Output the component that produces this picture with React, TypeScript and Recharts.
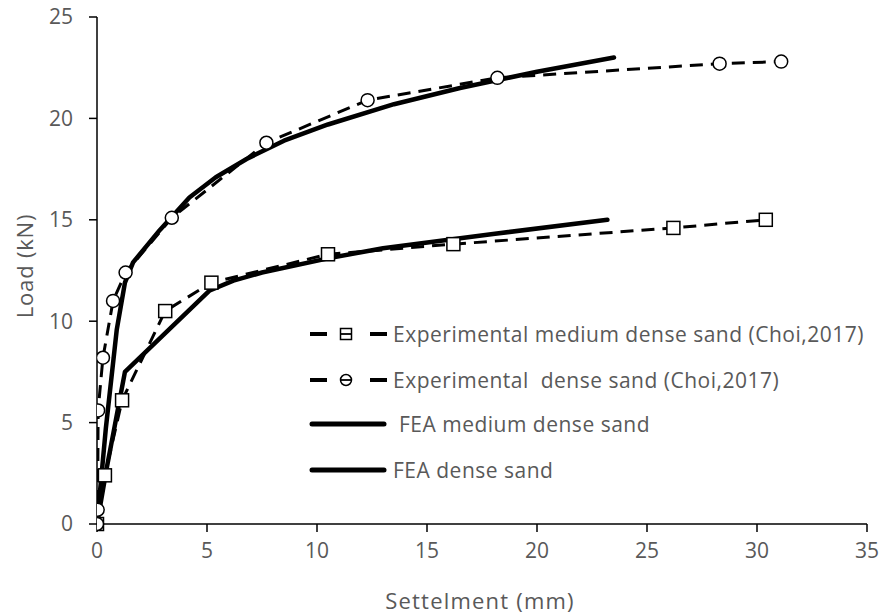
import React from "react";
import { LineChart, Line, XAxis, YAxis } from "recharts";

// settlement (mm) / load (kN)
const expMediumX = [0, 0.36, 1.14, 3.1, 5.2, 10.5, 16.2, 26.2, 30.4];
const expMediumY = [0, 2.4, 6.1, 10.5, 11.9, 13.3, 13.8, 14.6, 15.0];

const expDenseX = [0, 0.03, 0.05, 0.27, 0.73, 1.3, 3.4, 7.7, 12.3, 18.2, 28.3, 31.1];
const expDenseY = [0, 0.7, 5.6, 8.2, 11.0, 12.4, 15.1, 18.8, 20.9, 22.0, 22.7, 22.8];

const feaMediumX = [0, 0.45, 0.8, 1.27, 5.1, 6.2, 7.5, 10.5, 13.0, 18.0, 23.2];
const feaMediumY = [0, 2.8, 4.8, 7.5, 11.5, 12.0, 12.4, 13.1, 13.6, 14.3, 15.0];

const feaDenseX = [0, 0.4, 0.9, 1.27, 1.64, 2.86, 4.2, 5.4, 6.8, 8.5, 10.5, 13.5, 16.5, 20.0, 23.5];
const feaDenseY = [0, 4.7, 9.6, 11.9, 12.9, 14.5, 16.1, 17.1, 18.0, 18.9, 19.7, 20.7, 21.5, 22.3, 23.0];

const xTicks = [0, 5, 10, 15, 20, 25, 30, 35];
const yTicks = [0, 5, 10, 15, 20, 25];

const legendLabels = [
  "Experimental medium dense sand (Choi,2017)",
  "Experimental  dense sand (Choi,2017)",
  " FEA medium dense sand",
  "FEA dense sand",
];

const zip = (xs: number[], ys: number[]) => xs.map((x, i) => ({ x, y: ys[i] }));

const FONT = "'Open Sans', sans-serif";
const GREY = "#595959";

const SquareDot = (props: any) => {
  const { cx, cy, index } = props;
  if (cx == null || cy == null) return <g key={index} />;
  return (
    <rect
      key={index}
      x={cx - 6.5}
      y={cy - 6.5}
      width={13}
      height={13}
      fill="#fff"
      stroke="#000"
      strokeWidth={1.5}
    />
  );
};

const CircleDot = (props: any) => {
  const { cx, cy, index } = props;
  if (cx == null || cy == null) return <g key={index} />;
  return <circle key={index} cx={cx} cy={cy} r={6.5} fill="#fff" stroke="#000" strokeWidth={1.5} />;
};

const YTitle = ({ viewBox }: any) => {
  const cx = 24;
  const cy = 266;
  return (
    <text
      x={cx}
      y={cy}
      transform={`rotate(-90, ${cx}, ${cy})`}
      textAnchor="middle"
      dominantBaseline="central"
      fill={GREY}
      fontSize={22}
      letterSpacing={0.8}
      fontFamily={FONT}
    >
      Load (kN)
    </text>
  );
};

const XTitle = ({ viewBox }: any) => (
  <text
    x={480}
    y={600}
    textAnchor="middle"
    dominantBaseline="central"
    fill={GREY}
    fontSize={22}
    letterSpacing={1.2}
    fontFamily={FONT}
  >
    Settelment (mm)
  </text>
);

function LegendIcon({ kind }: { kind: number }) {
  if (kind >= 2) {
    return (
      <svg width={88} height={20} style={{ display: "block", flex: "none" }}>
        <line x1={7} y1={10} x2={79} y2={10} stroke="#000" strokeWidth={5} strokeLinecap="round" />
      </svg>
    );
  }
  return (
    <svg width={88} height={20} style={{ display: "block", flex: "none" }}>
      <line x1={5} y1={10} x2={22} y2={10} stroke="#000" strokeWidth={4} />
      <line x1={65} y1={10} x2={82} y2={10} stroke="#000" strokeWidth={4} />
      {kind === 0 ? (
        <rect x={35.5} y={4.5} width={11} height={11} fill="#fff" stroke="#000" strokeWidth={1.5} />
      ) : (
        <circle cx={41} cy={10} r={5.5} fill="#fff" stroke="#000" strokeWidth={1.5} />
      )}
      <line x1={35} y1={10} x2={47} y2={10} stroke="#000" strokeWidth={1.8} />
    </svg>
  );
}

const rowCenters = [334, 380, 424, 470];

export default function App() {
  return (
    <div style={{ position: "absolute", left: 0, top: 0, width: 881, height: 616, background: "#fff" }}>
      <LineChart width={881} height={616} margin={{ top: 17, right: 14, left: 0, bottom: 0 }}>
        <XAxis
          dataKey="x"
          type="number"
          domain={[0, 35]}
          ticks={xTicks}
          allowDataOverflow
          height={92}
          tickSize={8}
          tickMargin={11}
          axisLine={{ stroke: "#000", strokeWidth: 1.5 }}
          tickLine={{ stroke: "#000", strokeWidth: 1.5 }}
          tick={{ fill: GREY, fontSize: 21, fontFamily: FONT }}
          label={<XTitle />}
        />
        <YAxis
          type="number"
          domain={[0, 25]}
          ticks={yTicks}
          width={97}
          tickSize={8}
          tickMargin={16}
          axisLine={{ stroke: "#000", strokeWidth: 1.5 }}
          tickLine={{ stroke: "#000", strokeWidth: 1.5 }}
          tick={{ fill: GREY, fontSize: 21, fontFamily: FONT }}
          label={<YTitle />}
        />
        <Line
          data={zip(expMediumX, expMediumY)}
          dataKey="y"
          type="linear"
          stroke="#000"
          strokeWidth={3}
          strokeDasharray="13 8"
          dot={SquareDot}
          isAnimationActive={false}
        />
        <Line
          data={zip(expDenseX, expDenseY)}
          dataKey="y"
          type="linear"
          stroke="#000"
          strokeWidth={3}
          strokeDasharray="13 8"
          dot={CircleDot}
          isAnimationActive={false}
        />
        <Line
          data={zip(feaMediumX, feaMediumY)}
          dataKey="y"
          type="linear"
          stroke="#000"
          strokeWidth={4.5}
          strokeLinecap="round"
          strokeLinejoin="round"
          dot={false}
          isAnimationActive={false}
        />
        <Line
          data={zip(feaDenseX, feaDenseY)}
          dataKey="y"
          type="linear"
          stroke="#000"
          strokeWidth={4.5}
          strokeLinecap="round"
          strokeLinejoin="round"
          dot={false}
          isAnimationActive={false}
        />
      </LineChart>
      {legendLabels.map((label, i) => (
        <div
          key={label}
          style={{
            position: "absolute",
            left: 305,
            top: rowCenters[i] - 15,
            height: 30,
            display: "flex",
            alignItems: "center",
            fontFamily: FONT,
            fontSize: 21,
            letterSpacing: 0.5,
            color: GREY,
            whiteSpace: "pre",
          }}
        >
          <LegendIcon kind={i} />
          <span>{label}</span>
        </div>
      ))}
    </div>
  );
}
